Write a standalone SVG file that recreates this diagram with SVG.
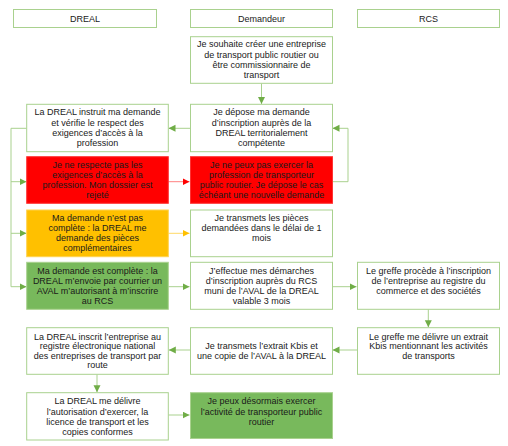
<svg xmlns="http://www.w3.org/2000/svg" width="508" height="446" viewBox="0 0 508 446">
<defs>
<style>
.b{fill:#fff;stroke:#a9d18e;stroke-width:1}
.r{fill:#ff0000;stroke:#ff3333;stroke-width:1}
.y{fill:#ffc000;stroke:#ffd24d;stroke-width:1}
.g{fill:#78b95c;stroke:#a9d18e;stroke-width:1}
text{font-family:"Liberation Sans",Arial,sans-serif;font-size:9px;fill:#1a1a1a;text-anchor:middle}
.c{fill:none;stroke:#a9d18e;stroke-width:1}
.cr{fill:none;stroke:#ff8080;stroke-width:1}
.co{fill:none;stroke:#ffd966;stroke-width:1}
</style>
<marker id="ag" markerUnits="userSpaceOnUse" markerWidth="8" markerHeight="8" refX="7" refY="3.5" orient="auto"><path d="M0,0L7,3.5L0,7z" fill="#70ad47"/></marker>
<marker id="ar" markerUnits="userSpaceOnUse" markerWidth="8" markerHeight="8" refX="7" refY="3.5" orient="auto"><path d="M0,0L7,3.5L0,7z" fill="#ff0000"/></marker>
<marker id="ao" markerUnits="userSpaceOnUse" markerWidth="8" markerHeight="8" refX="7" refY="3.5" orient="auto"><path d="M0,0L7,3.5L0,7z" fill="#ffc000"/></marker>
</defs>
<rect width="508" height="446" fill="#fff"/>
<g id="connectors">
<path class="c" d="M261.5,83.5V104" marker-end="url(#ag)"/>
<path class="c" d="M190,128.3H168.5" marker-end="url(#ag)"/>
<path class="c" d="M26.7,128.3H11V286.7H26.5" marker-end="url(#ag)"/>
<path class="c" d="M11,181.7H26.5" marker-end="url(#ag)"/>
<path class="c" d="M11,233.3H26.5" marker-end="url(#ag)"/>
<path class="cr" d="M168.3,181.7H189.5" marker-end="url(#ar)"/>
<path class="c" d="M332,181.7H348V128.3H332.5" marker-end="url(#ag)"/>
<path class="co" d="M168.3,233.3H189.5" marker-end="url(#ao)"/>
<path class="c" d="M168.3,286.7H189.5" marker-end="url(#ag)"/>
<path class="c" d="M332,286.7H356.5" marker-end="url(#ag)"/>
<path class="c" d="M428.3,309.3V327.2" marker-end="url(#ag)"/>
<path class="c" d="M357,350H332.5" marker-end="url(#ag)"/>
<path class="c" d="M190,350H168.8" marker-end="url(#ag)"/>
<path class="c" d="M97,374.3V392.2" marker-end="url(#ag)"/>
<path class="c" d="M168.3,415H189.5" marker-end="url(#ag)"/>
</g>
<g id="h-dreal"><rect class="b" x="13.5" y="9.5" width="143" height="18"/><text x="85" y="21.5">DREAL</text></g>
<g id="h-demandeur"><rect class="b" x="190.5" y="9.5" width="142" height="18"/><text x="261.5" y="21.5">Demandeur</text></g>
<g id="h-rcs"><rect class="b" x="357.5" y="9.5" width="142" height="18"/><text x="428.5" y="21.5">RCS</text></g>

<g id="n1"><rect class="b" x="190.5" y="36.7" width="142" height="46.6"/>
<text x="261.5" y="47.3">Je souhaite créer une entreprise</text><text x="261.5" y="57.6">de transport public routier ou</text><text x="261.5" y="67.9">être commissionnaire de</text><text x="261.5" y="78.2">transport</text></g>

<g id="n2"><rect class="b" x="26.7" y="104.3" width="141.6" height="47.4"/>
<text x="97.5" y="115.3">La DREAL instruit ma demande</text><text x="97.5" y="125.6">et vérifie le respect des</text><text x="97.5" y="135.9">exigences d’accès à la</text><text x="97.5" y="146.2">profession</text></g>

<g id="n3"><rect class="b" x="190.5" y="104.3" width="142" height="47.4"/>
<text x="261.5" y="115.3">Je dépose ma demande</text><text x="261.5" y="125.6">d’inscription auprès de la</text><text x="261.5" y="135.9">DREAL territorialement</text><text x="261.5" y="146.2">compétente</text></g>

<g id="n4"><rect class="r" x="26.7" y="156.7" width="141.6" height="46.6"/>
<text x="97.5" y="168.3">Je ne respecte pas les</text><text x="97.5" y="178.3">exigences d’accès à la</text><text x="97.5" y="188.3">profession. Mon dossier est</text><text x="97.5" y="198.3">rejeté</text></g>

<g id="n5"><rect class="r" x="190.5" y="156.7" width="142" height="46.6"/>
<text x="261.5" y="168.3">Je ne peux pas exercer la</text><text x="261.5" y="178.3">profession de transporteur</text><text x="261.5" y="188.3">public routier. Je dépose le cas</text><text x="261.5" y="198.3">échéant une nouvelle demande</text></g>

<g id="n6"><rect class="y" x="26.7" y="210" width="141.6" height="46.7"/>
<text x="97.5" y="220.5">Ma demande n’est pas</text><text x="97.5" y="231">complète : la DREAL me</text><text x="97.5" y="241">demande des pièces</text><text x="97.5" y="251">complémentaires</text></g>

<g id="n7"><rect class="b" x="190.5" y="210" width="142" height="46.7"/>
<text x="261.5" y="221.3">Je transmets les pièces</text><text x="261.5" y="231.3">demandées dans le délai de 1</text><text x="261.5" y="241.3">mois</text></g>

<g id="n8"><rect class="g" x="26.7" y="262.3" width="141.6" height="47"/>
<text x="97.5" y="274">Ma demande est complète : la</text><text x="97.5" y="284">DREAL m’envoie par courrier un</text><text x="97.5" y="294">AVAL m’autorisant à m’inscrire</text><text x="97.5" y="304">au RCS</text></g>

<g id="n9"><rect class="b" x="190.5" y="262.3" width="142" height="47"/>
<text x="261.5" y="274">J’effectue mes démarches</text><text x="261.5" y="284">d’inscription auprès du RCS</text><text x="261.5" y="294">muni de l’AVAL de la DREAL</text><text x="261.5" y="304">valable 3 mois</text></g>

<g id="n10"><rect class="b" x="357.5" y="262.3" width="142" height="47"/>
<text x="428.5" y="274">Le greffe procède à l’inscription</text><text x="428.5" y="284">de l’entreprise au registre du</text><text x="428.5" y="294">commerce et des sociétés</text></g>

<g id="n11"><rect class="b" x="26.7" y="327.7" width="141.6" height="46.6"/>
<text x="97.5" y="339.5">La DREAL inscrit l’entreprise au</text><text x="97.5" y="349.3">registre électronique national</text><text x="97.5" y="358.8">des entreprises de transport par</text><text x="97.5" y="368.3">route</text></g>

<g id="n12"><rect class="b" x="190.5" y="327.7" width="142" height="46.6"/>
<text x="261.5" y="348.8">Je transmets l’extrait Kbis et</text><text x="261.5" y="358.8">une copie de l’AVAL à la DREAL</text></g>

<g id="n13"><rect class="b" x="357.5" y="327.7" width="142" height="46.6"/>
<text x="428.5" y="339.5">Le greffe me délivre un extrait</text><text x="428.5" y="349">Kbis mentionnant les activités</text><text x="428.5" y="358.5">de transports</text></g>

<g id="n14"><rect class="b" x="26.7" y="392.7" width="141.6" height="47.3"/>
<text x="97.5" y="404">La DREAL me délivre</text><text x="97.5" y="414.5">l’autorisation d’exercer, la</text><text x="97.5" y="424.5">licence de transport et les</text><text x="97.5" y="434.5">copies conformes</text></g>

<g id="n15"><rect class="g" x="190.5" y="392.7" width="142" height="45.8"/>
<text x="261.5" y="404">Je peux désormais exercer</text><text x="261.5" y="414.5">l’activité de transporteur public</text><text x="261.5" y="424.5">routier</text></g>
</svg>
